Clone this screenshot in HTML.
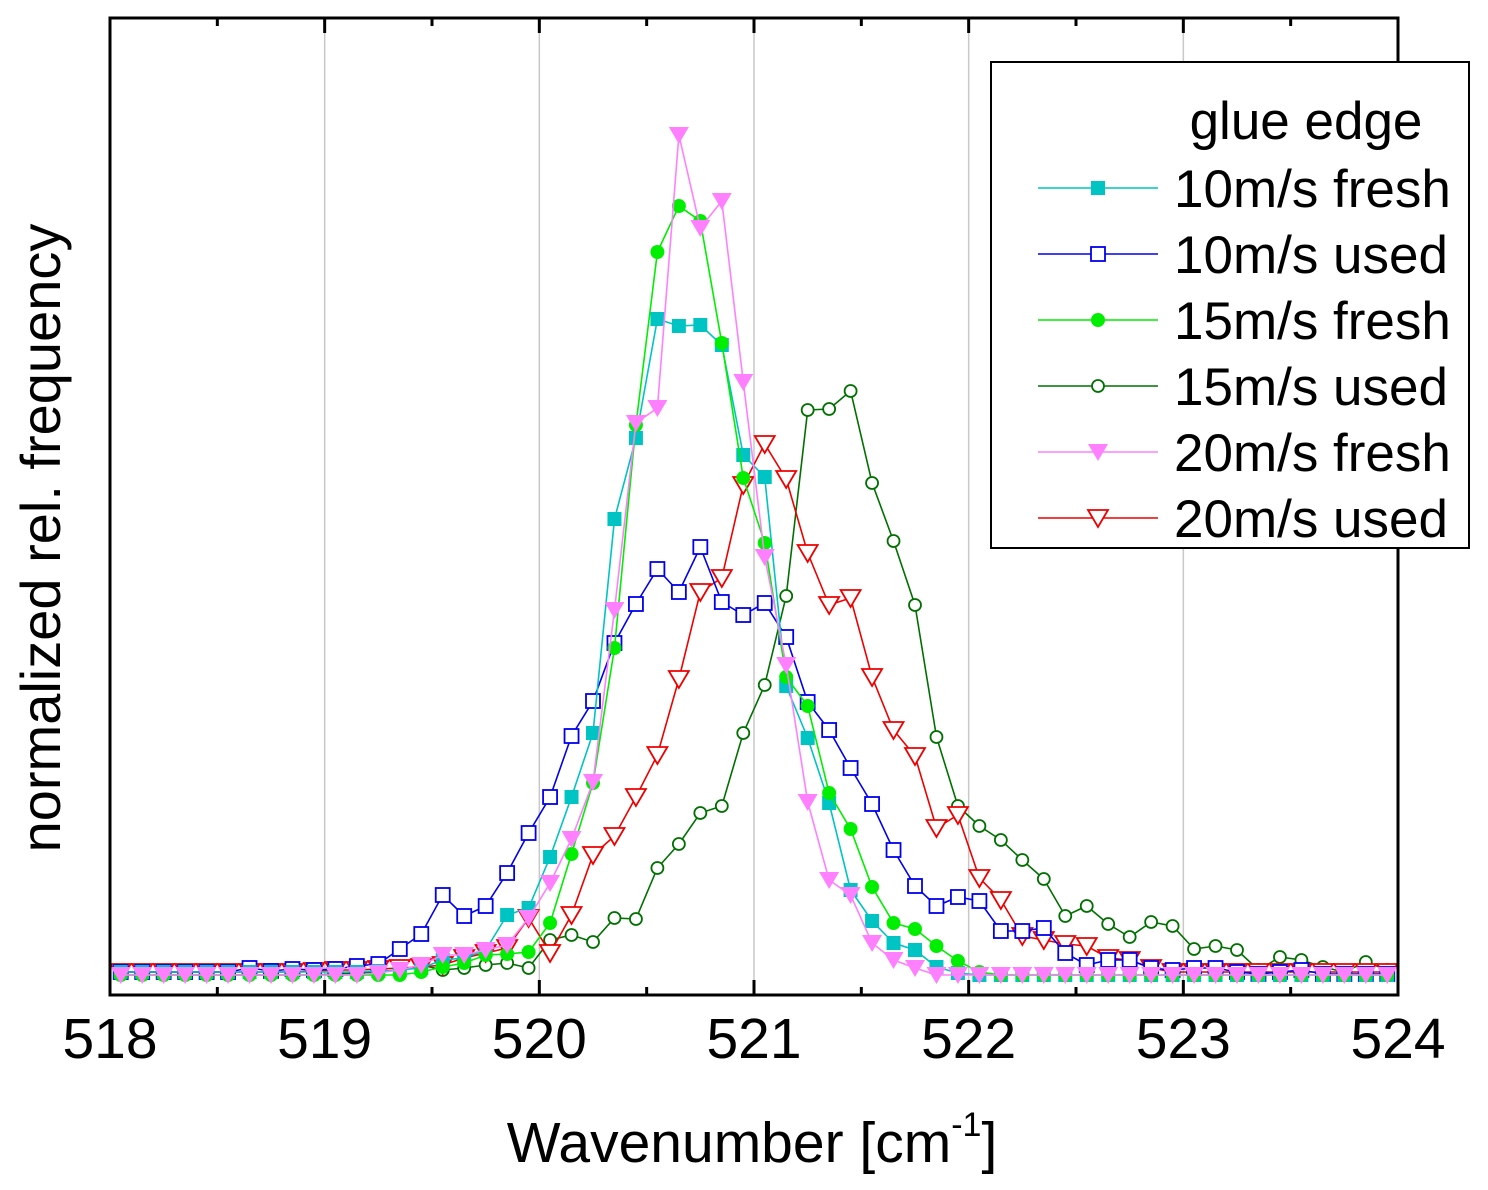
<!DOCTYPE html>
<html><head><meta charset="utf-8"><style>
html,body{margin:0;padding:0;background:#fff;}
svg{display:block;font-family:"Liberation Sans",Arial,sans-serif;}
</style></head><body>
<svg id="chart" width="1488" height="1190" viewBox="0 0 1488 1190" xmlns="http://www.w3.org/2000/svg">
<g id="grid"></g>
<g id="series"></g>
<rect x="110" y="18" width="1288" height="977" fill="none" stroke="#000" stroke-width="3"/>
<g id="ticks"></g>
<text x="752" y="1162" font-size="57" text-anchor="middle">Wavenumber [cm<tspan font-size="34" dy="-26">-1</tspan><tspan dy="26">]</tspan></text>
<text transform="translate(60,538) rotate(-90)" font-size="56" text-anchor="middle">normalized rel. frequency</text>
<g id="legend">
<rect x="991" y="62" width="478" height="486" fill="#fff" stroke="#000" stroke-width="2"/>
<text x="1306" y="139" font-size="53" text-anchor="middle">glue edge</text>
</g>
</svg>
<script>
const xTickLabels = ["518","519","520","521","522","523","524"];
const seriesNames = ["10m/s fresh","10m/s used","15m/s fresh","15m/s used","20m/s fresh","20m/s used"];
const xStart = 518.05, xStep = 0.1;
const fresh10 = [0.3,0.3,0.3,0.3,0.3,0.3,0.3,0.3,0.3,0.3,0.3,0.3,0.4,0.5,0.7,1.5,1.7,2.5,6,6.7,11.8,17.8,24.2,45.6,53.7,65.6,64.9,65,63,52,49.8,28.9,23.7,17.2,8.5,5.4,3.2,2.5,0.8,0.2,0,0,0,0,0,0,0,0,0,0,0,0,0,0,0,0,0,0,0,0];
const used10 = [0.3,0.3,0.3,0.3,0.3,0.3,0.7,0.4,0.6,0.5,0.6,0.9,1.1,2.6,4.1,8,5.9,6.9,10.2,14.2,17.8,23.9,27.4,33.2,37.1,40.6,38.3,42.8,37.3,36,37.2,33.8,27.3,24.5,20.7,17.1,12.5,8.9,6.9,7.8,7.4,4.4,4.4,4.7,2.2,1,1.5,1.5,0.7,0.5,0.7,0.7,0.3,0.1,0.3,0.5,0.1,0.1,0.1,0.1];
const fresh15 = [0,0,0,0,0,0,0,0,0,0,0,0,0,0,0.3,0.8,1.2,2,2.1,2.3,5.2,12.1,19.2,32.7,55,72.3,76.9,75.4,63.2,49.7,43.2,29.8,26.9,18.2,14.6,8.8,5.2,4.6,2.9,1.4,0.3,0,0,0,0,0,0,0,0,0,0,0,0,0,0,0,0,0,0,0];
const used15 = [0,0,0,0,0,0,0,0,0,0,0.1,0.2,0.3,0.5,1,0.5,0.7,1,1.2,0.7,3.5,4,3.3,5.7,5.6,10.7,13.1,16.2,16.9,24.2,29,37.9,56.5,56.6,58.4,49.2,43.4,37,23.8,16.9,14.9,13.5,11.5,9.6,5.9,6.9,5.1,3.8,5.3,4.9,2.6,2.9,2.5,0.5,1.8,1.5,0.8,0.3,1.3,0.5];
const fresh20 = [0,0,0,0,0,0,0,0,0,0,0,0,0.2,0.5,1,2,2,2.5,3,5.7,9.2,13.6,19.3,36.5,55.2,56.7,84,74.7,77.4,59.3,41.8,31,17.3,9.5,8,3.2,1.5,0.7,0,0,0,0,0,0,0,0,0,0,0,0,0,0,0,0,0,0,0,0,0,0];
const used20 = [0.3,0.3,0.3,0.3,0.3,0.3,0.3,0.3,0.3,0.4,0.5,0.5,0.6,0.7,0.8,1,1.7,2.2,2.7,5.7,2.2,6,12,13.9,17.8,22,29.6,38.3,39.7,49,53.1,49.6,42.2,37,37.7,29.8,24.5,21.9,14.7,16,9.7,7.5,3.9,3.5,3.1,2.9,1.7,1.5,0.7,0.3,0.3,0.3,0.3,0.3,0.3,0.3,0.3,0.3,0.3,0.3];

const NS="http://www.w3.org/2000/svg";
const X0=110,X1=1398,Y0=975,Y1=18;
function xs(v){return X0+(v-518)/(524-518)*(X1-X0);}
function ys(v){return Y0-(v/95.7)*(Y0-Y1);}
function mk(tag,attrs,parent){const e=document.createElementNS(NS,tag);for(const k in attrs)e.setAttribute(k,attrs[k]);parent.appendChild(e);return e;}

const grid=document.getElementById('grid'), ticks=document.getElementById('ticks');
xTickLabels.forEach((t,i)=>{
  const x=xs(+t);
  if(i>0&&i<xTickLabels.length-1){
    const g=mk('line',{x1:x,x2:x,y1:18,y2:995,stroke:'#c8c8c8','stroke-width':1.5},grid);
    
    
  }
  const tk=mk('line',{x1:x,x2:x,y1:995,y2:980,stroke:'#000','stroke-width':3},ticks);
  
  
  const tt=mk('line',{x1:x,x2:x,y1:18,y2:33,stroke:'#000','stroke-width':3},ticks);
  
  
  if(i<xTickLabels.length-1){
    const xm=xs(+t+0.5);
    const m1=mk('line',{x1:xm,x2:xm,y1:995,y2:987,stroke:'#000','stroke-width':3},ticks);
    
    
    const m2=mk('line',{x1:xm,x2:xm,y1:18,y2:26,stroke:'#000','stroke-width':3},ticks);
    
    
  }
  const lb=mk('text',{x:x,y:1058,'font-size':57,'text-anchor':'middle'},ticks);
  lb.textContent=t;
  
  
});

const styles=[
 {data:fresh10,color:'#00c4c4',shape:'square',fill:true},
 {data:used10,color:'#0000ee',shape:'square',fill:false},
 {data:fresh15,color:'#00ee00',shape:'circle',fill:true},
 {data:used15,color:'#007000',shape:'circle',fill:false},
 {data:fresh20,color:'#ff80ff',shape:'tri',fill:true},
 {data:used20,color:'#ee0000',shape:'tri',fill:false}
];
function marker(g,shape,x,y,color,fill){
  let e;
  const f=fill?color:'#fff', sw=fill?0:1.8;
  if(shape==='square'){e=mk('rect',{x:x-7,y:y-7,width:14,height:14,fill:f,stroke:color,'stroke-width':sw},g);}
  else if(shape==='circle'){e=mk('circle',{cx:x,cy:y,r:fill?7:6,fill:f,stroke:color,'stroke-width':sw},g);}
  else {e=mk('polygon',{points:(x-10)+','+(y-8)+' '+(x+10)+','+(y-8)+' '+x+','+(y+9),fill:f,stroke:color,'stroke-width':sw},g);}
  return e;
}
const sl=document.getElementById('series');
const order=[3,5,1,0,2,4];
order.forEach(si=>{
  const s=styles[si];
  const g=mk('g',{},sl);
  
  
  const pts=s.data.map((v,i)=>xs(xStart+i*xStep).toFixed(1)+','+ys(v).toFixed(1)).join(' ');
  const pl=mk('polyline',{points:pts,fill:'none',stroke:s.color,'stroke-width':1.6},g);
  
  
  s.data.forEach((v,i)=>{
    const m=marker(g,s.shape,xs(xStart+i*xStep),ys(v),s.color,s.fill);
    
    
  });
});

const lg=document.getElementById('legend');
styles.forEach((s,i)=>{
  const y=188+i*66;
  const g=mk('g',{},lg);
  
  
  mk('line',{x1:1038,x2:1158,y1:y,y2:y,stroke:s.color,'stroke-width':1.6},g);
  marker(g,s.shape,1098,y,s.color,s.fill);
  const t=mk('text',{x:1174,y:y+19,'font-size':53},g);
  t.textContent=seriesNames[i];
});
</script>
</body></html>
